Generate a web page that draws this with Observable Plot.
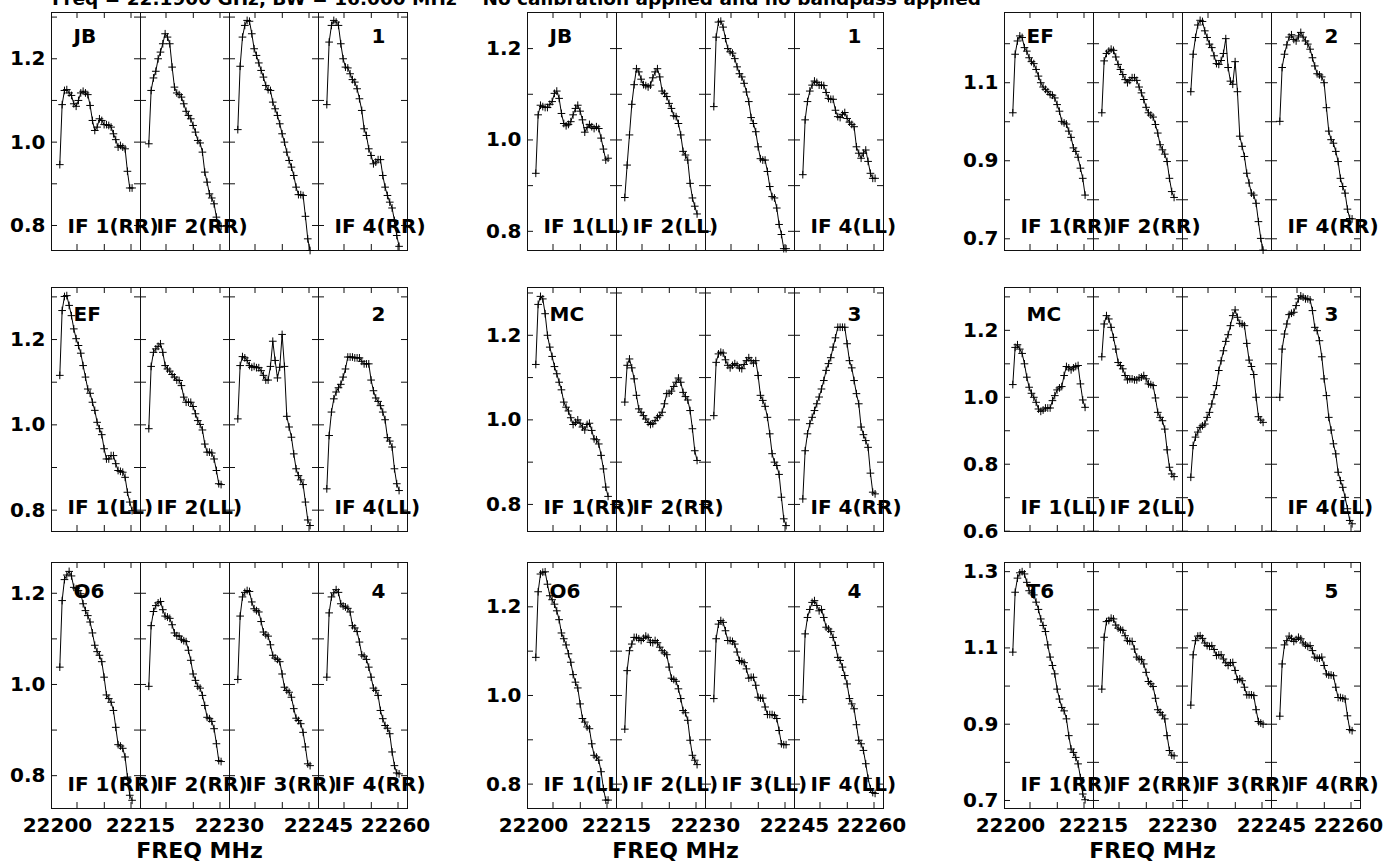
<!DOCTYPE html>
<html><head><meta charset="utf-8">
<script src="https://cdn.jsdelivr.net/npm/d3@7"></script>
<script src="https://cdn.jsdelivr.net/npm/@observablehq/plot@0.6"></script>
<style>
html,body{margin:0;padding:0;background:#fff;}
#page{position:relative;width:1394px;height:865px;overflow:hidden;background:#fff;font-family:"DejaVu Sans",sans-serif;font-weight:bold;}
#title{position:absolute;left:52px;top:-10px;font-size:18.5px;line-height:18px;white-space:pre;color:#000;}
</style></head><body>
<div id="page"><div id="title">Freq = 22.1900 GHz, BW = 16.000 MHz    No calibration applied and no bandpass applied</div></div>
<script>
// ---------- data: amplitude per channel, 4 IFs per panel ----------
const jbRR = [
 [0.946,1.090,1.124,1.126,1.118,1.112,1.092,1.086,1.100,1.118,1.122,1.118,1.114,1.088,1.052,1.028,1.036,1.056,1.052,1.042,1.042,1.040,1.036,1.020,1.006,0.988,0.992,0.988,0.984,0.930,0.890,0.890],
 [0.996,1.124,1.154,1.170,1.200,1.216,1.236,1.260,1.252,1.236,1.180,1.132,1.118,1.114,1.108,1.092,1.074,1.064,1.056,1.040,1.024,1.004,0.998,0.976,0.928,0.904,0.876,0.866,0.852,0.820,0.800,0.798],
 [1.030,1.182,1.252,1.280,1.292,1.290,1.260,1.224,1.208,1.190,1.172,1.156,1.136,1.126,1.124,1.096,1.080,1.064,1.044,1.020,1.000,0.976,0.956,0.940,0.920,0.892,0.874,0.874,0.872,0.822,0.768,0.740],
 [1.090,1.240,1.280,1.292,1.288,1.280,1.236,1.200,1.180,1.178,1.164,1.150,1.144,1.128,1.104,1.076,1.032,1.016,0.984,0.968,0.948,0.952,0.958,0.958,0.920,0.892,0.872,0.856,0.842,0.812,0.776,0.750]];
const jbLL = [
 [0.927,1.055,1.076,1.073,1.071,1.071,1.078,1.084,1.102,1.107,1.091,1.058,1.036,1.031,1.034,1.040,1.055,1.069,1.076,1.063,1.044,1.017,1.027,1.034,1.029,1.025,1.029,1.025,1.004,0.980,0.956,0.960],
 [0.874,0.945,1.011,1.078,1.121,1.156,1.149,1.133,1.121,1.119,1.116,1.120,1.136,1.149,1.156,1.138,1.107,1.102,1.095,1.080,1.069,1.053,1.051,1.036,1.011,0.975,0.967,0.956,0.905,0.873,0.855,0.838],
 [1.073,1.225,1.258,1.260,1.247,1.222,1.200,1.193,1.190,1.178,1.160,1.145,1.138,1.124,1.105,1.084,1.049,1.036,1.018,0.985,0.959,0.956,0.956,0.931,0.898,0.876,0.873,0.851,0.815,0.793,0.762,0.762],
 [0.924,1.044,1.084,1.107,1.120,1.129,1.126,1.120,1.120,1.119,1.104,1.091,1.089,1.089,1.065,1.051,1.049,1.056,1.060,1.047,1.039,1.034,1.029,0.985,0.971,0.960,0.971,0.978,0.953,0.927,0.916,0.916]];
const efRR = [
 [1.023,1.173,1.207,1.220,1.216,1.190,1.181,1.164,1.154,1.149,1.134,1.117,1.100,1.089,1.083,1.077,1.070,1.068,1.061,1.044,1.027,1.001,0.997,0.994,0.976,0.960,0.933,0.924,0.909,0.881,0.855,0.812],
 [1.023,1.156,1.175,1.181,1.186,1.183,1.166,1.147,1.134,1.121,1.108,1.100,1.106,1.113,1.113,1.106,1.089,1.074,1.057,1.037,1.023,1.017,1.012,0.993,0.971,0.941,0.928,0.917,0.898,0.855,0.821,0.806],
 [1.077,1.173,1.216,1.248,1.260,1.257,1.233,1.216,1.199,1.190,1.169,1.149,1.147,1.157,1.175,1.213,1.139,1.104,1.096,1.154,1.077,0.963,0.937,0.911,0.868,0.843,0.817,0.812,0.791,0.744,0.701,0.671],
 [1.001,1.139,1.173,1.197,1.217,1.223,1.211,1.207,1.220,1.229,1.217,1.207,1.199,1.186,1.164,1.143,1.123,1.120,1.115,1.100,1.036,0.976,0.954,0.945,0.924,0.898,0.855,0.834,0.817,0.776,0.752,0.751]];
const efLL = [
 [1.116,1.268,1.301,1.303,1.280,1.256,1.225,1.202,1.186,1.168,1.139,1.112,1.084,1.074,1.053,1.034,1.006,0.991,0.977,0.944,0.920,0.920,0.928,0.928,0.909,0.893,0.891,0.889,0.877,0.842,0.819,0.799],
 [0.991,1.137,1.170,1.178,1.184,1.190,1.170,1.139,1.131,1.126,1.118,1.112,1.105,1.104,1.092,1.065,1.053,1.053,1.053,1.043,1.026,1.010,1.001,0.988,0.955,0.936,0.936,0.934,0.920,0.893,0.862,0.860],
 [1.014,1.139,1.160,1.157,1.151,1.139,1.135,1.137,1.134,1.134,1.127,1.116,1.105,1.105,1.137,1.196,1.151,1.110,1.135,1.212,1.137,1.020,0.995,0.971,0.932,0.897,0.881,0.871,0.860,0.819,0.777,0.764],
 [0.850,0.975,1.030,1.061,1.077,1.087,1.095,1.112,1.131,1.159,1.159,1.159,1.157,1.157,1.157,1.149,1.143,1.143,1.143,1.105,1.080,1.063,1.055,1.045,1.030,1.012,0.970,0.962,0.948,0.897,0.862,0.846]];
const mcRR = [
 [1.131,1.273,1.292,1.286,1.251,1.200,1.172,1.150,1.126,1.109,1.089,1.071,1.042,1.030,1.021,1.005,0.989,0.994,1.000,0.992,0.983,0.976,0.989,0.992,0.975,0.955,0.953,0.943,0.916,0.884,0.841,0.819],
 [1.042,1.129,1.144,1.123,1.097,1.058,1.026,1.018,1.010,1.002,0.994,0.989,0.991,0.998,1.006,1.010,1.018,1.038,1.062,1.063,1.068,1.079,1.089,1.099,1.089,1.065,1.055,1.047,1.022,0.979,0.927,0.904],
 [1.010,1.136,1.156,1.160,1.158,1.142,1.129,1.123,1.129,1.133,1.129,1.123,1.121,1.131,1.140,1.147,1.140,1.134,1.140,1.105,1.058,1.046,1.032,1.006,0.967,0.920,0.900,0.892,0.871,0.817,0.766,0.750],
 [0.813,0.927,0.967,0.991,1.006,1.022,1.038,1.054,1.073,1.093,1.117,1.133,1.147,1.172,1.194,1.219,1.219,1.219,1.219,1.180,1.140,1.123,1.093,1.062,1.038,0.983,0.965,0.951,0.935,0.874,0.829,0.825]];
const mcLL = [
 [1.038,1.149,1.157,1.144,1.131,1.100,1.060,1.030,1.012,1.000,0.985,0.965,0.958,0.962,0.968,0.968,0.968,0.990,1.005,1.022,1.028,1.032,1.065,1.092,1.088,1.082,1.088,1.092,1.095,1.040,0.992,0.970],
 [1.121,1.219,1.244,1.234,1.209,1.179,1.144,1.104,1.095,1.085,1.065,1.052,1.055,1.055,1.052,1.052,1.058,1.060,1.065,1.055,1.040,1.038,1.035,0.998,0.955,0.940,0.930,0.905,0.843,0.791,0.771,0.763],
 [0.761,0.856,0.881,0.896,0.910,0.915,0.920,0.940,0.955,0.980,1.008,1.035,1.080,1.109,1.139,1.167,1.187,1.214,1.244,1.261,1.239,1.221,1.219,1.214,1.161,1.111,1.092,1.068,1.000,0.942,0.932,0.925],
 [1.000,1.144,1.189,1.219,1.247,1.251,1.254,1.274,1.294,1.303,1.299,1.294,1.294,1.291,1.259,1.209,1.199,1.169,1.121,1.055,1.005,0.940,0.902,0.861,0.831,0.776,0.751,0.731,0.701,0.667,0.632,0.622]];
const o6RR = [
 [1.038,1.184,1.230,1.240,1.248,1.238,1.213,1.210,1.206,1.199,1.177,1.162,1.151,1.137,1.113,1.086,1.072,1.064,1.050,1.016,0.977,0.969,0.961,0.943,0.906,0.868,0.865,0.860,0.841,0.797,0.757,0.746],
 [0.996,1.129,1.160,1.173,1.179,1.182,1.164,1.150,1.148,1.145,1.131,1.113,1.107,1.106,1.099,1.096,1.094,1.075,1.053,1.023,1.009,0.996,0.992,0.976,0.954,0.928,0.925,0.919,0.903,0.870,0.833,0.831],
 [1.011,1.150,1.192,1.202,1.206,1.204,1.181,1.166,1.162,1.159,1.138,1.115,1.109,1.106,1.087,1.064,1.058,1.055,1.050,1.023,0.994,0.987,0.983,0.972,0.947,0.926,0.921,0.914,0.895,0.863,0.826,0.822],
 [1.016,1.157,1.192,1.201,1.208,1.202,1.177,1.172,1.170,1.167,1.159,1.129,1.124,1.116,1.093,1.065,1.062,1.055,1.038,1.016,0.992,0.987,0.976,0.943,0.925,0.910,0.904,0.892,0.852,0.822,0.806,0.804]];
const o6LL = [
 [1.086,1.234,1.274,1.278,1.279,1.251,1.225,1.216,1.206,1.191,1.171,1.141,1.128,1.114,1.094,1.075,1.047,1.030,1.017,0.981,0.948,0.940,0.929,0.925,0.891,0.865,0.861,0.854,0.828,0.790,0.764,0.764],
 [0.924,1.056,1.101,1.116,1.131,1.131,1.128,1.124,1.129,1.134,1.131,1.120,1.119,1.124,1.119,1.109,1.101,1.096,1.092,1.064,1.039,1.036,1.032,1.015,0.993,0.966,0.961,0.944,0.899,0.865,0.854,0.844],
 [0.993,1.128,1.161,1.169,1.165,1.146,1.124,1.124,1.122,1.116,1.098,1.079,1.077,1.074,1.060,1.039,1.041,1.041,1.023,0.996,0.994,0.994,0.974,0.957,0.957,0.957,0.955,0.948,0.921,0.891,0.889,0.889],
 [0.991,1.139,1.176,1.194,1.210,1.214,1.203,1.191,1.194,1.176,1.154,1.150,1.144,1.131,1.113,1.086,1.079,1.064,1.045,1.026,0.993,0.981,0.970,0.934,0.899,0.891,0.876,0.846,0.813,0.790,0.781,0.779]];
const t6RR = [
 [1.089,1.246,1.283,1.297,1.300,1.294,1.272,1.250,1.244,1.239,1.220,1.201,1.176,1.159,1.143,1.108,1.076,1.054,1.032,0.992,0.966,0.944,0.935,0.914,0.870,0.835,0.826,0.813,0.796,0.760,0.717,0.702],
 [0.992,1.128,1.169,1.172,1.178,1.176,1.160,1.152,1.148,1.146,1.132,1.119,1.117,1.117,1.097,1.076,1.071,1.069,1.058,1.036,1.012,1.006,0.999,0.968,0.938,0.931,0.924,0.914,0.870,0.831,0.819,0.817],
 [0.950,1.082,1.119,1.131,1.132,1.125,1.113,1.106,1.104,1.106,1.096,1.080,1.082,1.082,1.071,1.061,1.054,1.061,1.062,1.041,1.017,1.019,1.014,0.997,0.977,0.977,0.977,0.975,0.938,0.907,0.903,0.900],
 [0.921,1.058,1.108,1.119,1.131,1.125,1.117,1.122,1.128,1.124,1.113,1.108,1.104,1.106,1.093,1.076,1.073,1.073,1.076,1.054,1.032,1.029,1.029,1.027,0.997,0.970,0.970,0.968,0.966,0.922,0.886,0.883]];

const panelSeries = [jbRR, jbLL, efRR, efLL, mcRR, mcLL, o6RR, o6LL, t6RR];
const stations = ["JB","JB","EF","EF","MC","MC","O6","O6","T6"];
const antennaNumbers = ["1","1","2","2","3","3","4","4","5"];
const pols = ["RR","LL","RR","LL","RR","LL","RR","LL","RR"];
const yDomains = [[0.740,1.311],[0.758,1.279],[0.670,1.280],[0.750,1.322],[0.736,1.313],[0.599,1.328],[0.728,1.2675],[0.745,1.300],[0.679,1.324]];
const yTickValues = [
 [0.8,0.9,1.0,1.1,1.2,1.3],[0.8,0.9,1.0,1.1,1.2],[0.7,0.8,0.9,1.0,1.1,1.2],
 [0.8,0.9,1.0,1.1,1.2,1.3],[0.8,0.9,1.0,1.1,1.2,1.3],[0.6,0.7,0.8,0.9,1.0,1.1,1.2,1.3],
 [0.8,0.9,1.0,1.1,1.2],[0.8,0.9,1.0,1.1,1.2],[0.7,0.8,0.9,1.0,1.1,1.2,1.3]];
const yLabelValues = [
 [0.8,1.0,1.2],[0.8,1.0,1.2],[0.7,0.9,1.1],
 [0.8,1.0,1.2],[0.8,1.0,1.2],[0.6,0.8,1.0,1.2],
 [0.8,1.0,1.2],[0.8,1.0,1.2],[0.7,0.9,1.1,1.3]];
const ifLabelsShown = [[1,2,4],[1,2,4],[1,2,3,4]];   // per row
const ifStarts = [22200, 22215, 22230, 22245];      // MHz, axis position of each IF
const xLabelTicks = [22200, 22215, 22230, 22245, 22260];
const minorTickOffsets = [4.3, 8.9, 13.4];          // MHz within each IF
const chanOffset = 1.4, chanStep = 0.393;           // MHz per channel on the axis

// ---------- layout ----------
const colFrameLeft = [50.7, 527, 1004.3];
const frameW = 356;
const rowFrameTop = [12, 287, 562];
const rowFrameBottom = [250, 531, 808];
const rowLabelDy = [30, 33, 35];
const tickLen = 6;

const page = document.getElementById("page");
const xDomain = [xLabelTicks[0], xLabelTicks[xLabelTicks.length - 1]];
const lines = xLabelTicks;  // vertical frame/boundary lines

for (let p = 0; p < 9; p++) {
  const r = Math.floor(p / 3), c = p % 3;
  const innerH = rowFrameBottom[r] - rowFrameTop[r];
  const mL = 50, mR = 26, mT = 10, mB = r === 2 ? 60 : 12;
  const W = mL + frameW + mR, H = mT + innerH + mB;
  const rows = panelSeries[p].flatMap((vals, k) =>
    vals.map((v, i) => ({ifn: k + 1, f: ifStarts[k] + chanOffset + i * chanStep, v})));
  const dX = tickLen * (xDomain[1] - xDomain[0]) / frameW;
  const yTickRows = yTickValues[p].flatMap(y => lines.map(b => ({
    y, x1: b === xDomain[0] ? b : b - dX, x2: b === xDomain[1] ? b : b + dX})));
  const xMinor = ifStarts.flatMap(s => minorTickOffsets.map(o => s + o));
  const ifLabelRows = ifLabelsShown[r].map(n => ({x: ifStarts[n - 1], label: `IF ${n}(${pols[p]})`}));

  const marks = [
    Plot.frame({stroke: "#111"}),
    Plot.ruleX(ifStarts.slice(1), {stroke: "#111"}),
    Plot.ruleX(xMinor, {stroke: "#111", insetBottom: innerH - tickLen}),
    Plot.ruleX(xMinor, {stroke: "#111", insetTop: innerH - tickLen}),
    Plot.ruleY(yTickRows, {y: "y", x1: "x1", x2: "x2", stroke: "#111"}),
    Plot.axisY(yLabelValues[p], {tickSize: 0, tickPadding: 6, tickFormat: d3.format(".1f"), label: null}),
    Plot.line(rows, {x: "f", y: "v", z: "ifn", stroke: "#000", strokeWidth: 1}),
    Plot.dot(rows, {x: "f", y: "v", symbol: "plus", r: 2.6, stroke: "#000", strokeWidth: 1}),
    Plot.text([stations[p]], {frameAnchor: "top-left", dx: 22, dy: rowLabelDy[r], textAnchor: "start", lineAnchor: "bottom"}),
    Plot.text([antennaNumbers[p]], {frameAnchor: "top-right", dx: -22, dy: rowLabelDy[r], textAnchor: "end", lineAnchor: "bottom"}),
    Plot.text(ifLabelRows, {x: "x", text: "label", frameAnchor: "bottom", dx: 16, dy: -18, textAnchor: "start", lineAnchor: "bottom"})
  ];
  if (r === 2) {
    const fmt = d => String(d);
    marks.push(
      Plot.axisX(xLabelTicks.slice(1, -1), {tickSize: 0, tickPadding: 9, tickFormat: fmt, label: null}),
      Plot.axisX(xLabelTicks.slice(0, 1), {tickSize: 0, tickPadding: 9, tickFormat: fmt, label: null, dx: 6}),
      Plot.axisX(xLabelTicks.slice(-1), {tickSize: 0, tickPadding: 9, tickFormat: fmt, label: null, dx: -12}),
      Plot.text(["FREQ MHz"], {frameAnchor: "bottom", dx: -30, dy: 49, lineAnchor: "bottom", fontSize: 22})
    );
  }
  const svg = Plot.plot({
    width: W, height: H,
    marginLeft: mL, marginRight: mR, marginTop: mT, marginBottom: mB,
    x: {domain: xDomain, axis: null},
    y: {domain: yDomains[p], axis: null},
    style: {fontFamily: "'DejaVu Sans', sans-serif", fontWeight: "bold", fontSize: "20px", overflow: "visible", background: "none", color: "#000"},
    marks
  });
  svg.style.position = "absolute";
  svg.style.left = (colFrameLeft[c] - mL) + "px";
  svg.style.top = (rowFrameTop[r] - mT) + "px";
  page.appendChild(svg);
}
</script>
</body></html>
